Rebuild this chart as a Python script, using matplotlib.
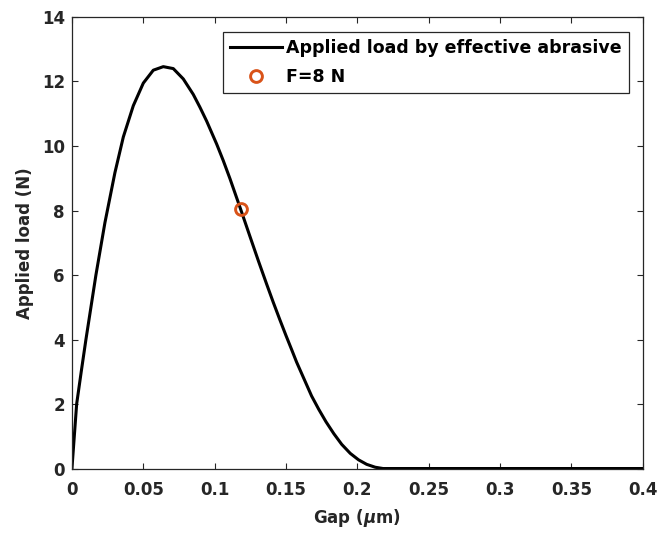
import numpy as np
import matplotlib
matplotlib.use('Agg')
import matplotlib.pyplot as plt

# values
gap = [0, 0.0033, 0.0065, 0.0098, 0.0133, 0.0168, 0.0231, 0.0301, 0.0360,
       0.0430, 0.0500, 0.0570, 0.0640, 0.0710, 0.0780, 0.0850, 0.0897, 0.0944,
       0.1014, 0.1060, 0.1107, 0.1182, 0.1247, 0.1307, 0.1364, 0.1410, 0.1457,
       0.1500, 0.1540, 0.1574, 0.1620, 0.1679, 0.1730, 0.1780, 0.1835, 0.1890,
       0.1950, 0.2008, 0.2065, 0.2125, 0.2180, 0.4]
load = [0, 2.0, 3.0, 4.0, 5.0, 6.0, 7.62, 9.17, 10.28,
        11.25, 11.95, 12.35, 12.46, 12.40, 12.08, 11.60, 11.20, 10.77,
        10.06, 9.55, 8.99, 8.04, 7.20, 6.43, 5.72, 5.16, 4.61,
        4.12, 3.68, 3.30, 2.84, 2.25, 1.83, 1.45, 1.08, 0.75,
        0.47, 0.27, 0.13, 0.04, 0, 0]
pt_gap = [0.1182]
pt_load = [8.04]

xticks = [0, 0.05, 0.1, 0.15, 0.2, 0.25, 0.3, 0.35, 0.4]
xticklabels = ['0', '0.05', '0.1', '0.15', '0.2', '0.25', '0.3', '0.35', '0.4']
yticks = [0, 2, 4, 6, 8, 10, 12, 14]

plt.rcParams['font.family'] = ['DejaVu Sans']
plt.rcParams['font.weight'] = 'bold'
plt.rcParams['axes.labelweight'] = 'bold'

fs = 12
fig = plt.figure(figsize=(6.6, 5.34), dpi=100)
ax = fig.add_axes([0.109, 0.1226, 0.865, 0.8456])

ax.plot(gap, load, color='black', lw=2.2, label='Applied load by effective abrasive')
ax.plot(pt_gap, pt_load, 'o', mfc='none', mec='#D95319', mew=2.1, ms=8.5, label='F=8 N')

ax.set_xlim(0, 0.4)
ax.set_ylim(0, 14)
ax.set_xticks(xticks)
ax.set_xticklabels(xticklabels)
ax.set_yticks(yticks)
ax.tick_params(direction='in', length=4.5, width=0.8, top=True, right=True,
               labelsize=fs, colors='#262626')
ax.tick_params(axis='x', pad=9)
ax.tick_params(axis='y', pad=5)
for s in ax.spines.values():
    s.set_color('#262626')
    s.set_linewidth(0.9)

ax.set_xlabel(r'Gap ($\mu$m)', fontsize=fs, color='#262626', labelpad=6)
ax.set_ylabel('Applied load (N)', fontsize=fs, color='#262626', labelpad=6)

leg = ax.legend(loc='upper right', bbox_to_anchor=(0.9755, 0.9668), fontsize=12.5,
                fancybox=False, framealpha=1, edgecolor='#262626',
                handlelength=3.0, handletextpad=0.25, borderpad=0.4,
                labelspacing=0.65, borderaxespad=0)
leg.get_frame().set_linewidth(0.9)

plt.savefig('out.png', dpi=100)
